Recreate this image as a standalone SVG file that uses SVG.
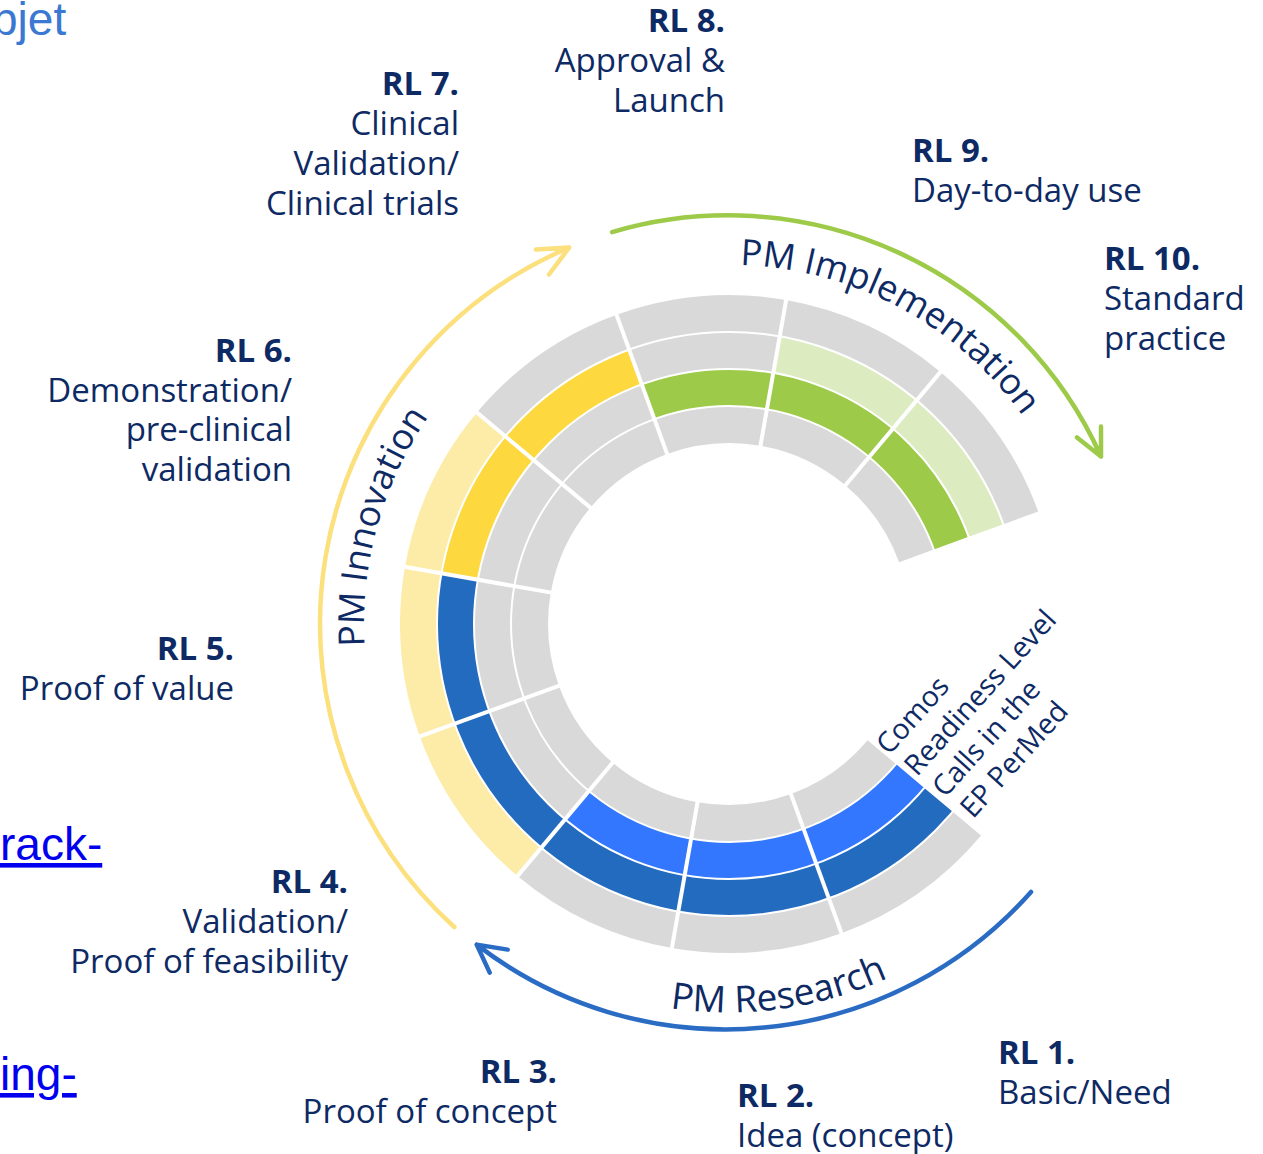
<svg xmlns="http://www.w3.org/2000/svg" width="1263" height="1154" viewBox="0 0 1263 1154">
<style>
.c{fill:none;stroke-width:37;stroke-dasharray:30 330}
.g{stroke:#D9D9D9}.ly{stroke:#FDEBA8}.y{stroke:#FDD83F}.db{stroke:#236BBE}.bb{stroke:#3377FF}.gr{stroke:#9DCA48}.lg{stroke:#DDEBC1}
.sep{stroke:#fff;stroke-width:4}
.rg{fill:none;stroke:#fff;stroke-width:2}
.lbl{font-family:"Open Sans","DejaVu Sans",sans-serif;font-size:33px;fill:#0E2A64}
.b{font-weight:700}
.ph{font-family:"Open Sans","DejaVu Sans",sans-serif;font-size:36px;fill:#0E2A64}
.arc{fill:none;stroke-width:4.5;stroke-linecap:round;stroke-linejoin:round}
.web{font-family:"Liberation Sans",Arial,sans-serif;font-size:46px}
</style>
<defs>
<path id="pInn" d="M 364.7 646.3 A 365 365 0 0 1 546.5 307.9"/>
<path id="pImp" d="M 740 265 A 360 360 0 0 1 1067.3 500.9"/>
<path id="pRes" d="M 670 1008 A 388 388 0 0 0 978.4 921.2"/>
</defs>
<rect width="1263" height="1154" fill="#fff"/>

<text class="web" x="-8" y="35" fill="#3A78D2">bjet</text>
<text class="web" x="0" y="860" fill="#0000EE" text-decoration="underline">rack-</text>
<text class="web" x="0" y="1090" fill="#0000EE" text-decoration="underline">ing-</text>

<g id="rl1">
<circle class="c g" cx="729" cy="624" r="199.5" pathLength="360" stroke-dashoffset="-40"/>
<circle class="c bb" cx="729" cy="624" r="236.5" pathLength="360" stroke-dashoffset="-40"/>
<circle class="c db" cx="729" cy="624" r="273.5" pathLength="360" stroke-dashoffset="-40"/>
<circle class="c g" cx="729" cy="624" r="310.5" pathLength="360" stroke-dashoffset="-40"/>
<text class="lbl" x="998" y="1064"><tspan class="b">RL 1.</tspan><tspan x="998" y="1104">Basic/Need</tspan></text>
</g>
<g id="rl2">
<circle class="c g" cx="729" cy="624" r="199.5" pathLength="360" stroke-dashoffset="-70"/>
<circle class="c bb" cx="729" cy="624" r="236.5" pathLength="360" stroke-dashoffset="-70"/>
<circle class="c db" cx="729" cy="624" r="273.5" pathLength="360" stroke-dashoffset="-70"/>
<circle class="c g" cx="729" cy="624" r="310.5" pathLength="360" stroke-dashoffset="-70"/>
<text class="lbl" x="737" y="1107"><tspan class="b">RL 2.</tspan><tspan x="737" y="1147">Idea (concept)</tspan></text>
</g>
<g id="rl3">
<circle class="c g" cx="729" cy="624" r="199.5" pathLength="360" stroke-dashoffset="-100"/>
<circle class="c bb" cx="729" cy="624" r="236.5" pathLength="360" stroke-dashoffset="-100"/>
<circle class="c db" cx="729" cy="624" r="273.5" pathLength="360" stroke-dashoffset="-100"/>
<circle class="c g" cx="729" cy="624" r="310.5" pathLength="360" stroke-dashoffset="-100"/>
<text class="lbl" text-anchor="end" x="557" y="1083"><tspan class="b">RL 3.</tspan><tspan x="557" y="1123">Proof of concept</tspan></text>
</g>
<g id="rl4">
<circle class="c g" cx="729" cy="624" r="199.5" pathLength="360" stroke-dashoffset="-130"/>
<circle class="c g" cx="729" cy="624" r="236.5" pathLength="360" stroke-dashoffset="-130"/>
<circle class="c db" cx="729" cy="624" r="273.5" pathLength="360" stroke-dashoffset="-130"/>
<circle class="c ly" cx="729" cy="624" r="310.5" pathLength="360" stroke-dashoffset="-130"/>
<text class="lbl" text-anchor="end" x="348" y="893"><tspan class="b">RL 4.</tspan><tspan x="348" y="933">Validation/</tspan><tspan x="348" y="973">Proof of feasibility</tspan></text>
</g>
<g id="rl5">
<circle class="c g" cx="729" cy="624" r="199.5" pathLength="360" stroke-dashoffset="-160"/>
<circle class="c g" cx="729" cy="624" r="236.5" pathLength="360" stroke-dashoffset="-160"/>
<circle class="c db" cx="729" cy="624" r="273.5" pathLength="360" stroke-dashoffset="-160"/>
<circle class="c ly" cx="729" cy="624" r="310.5" pathLength="360" stroke-dashoffset="-160"/>
<text class="lbl" text-anchor="end" x="234" y="660"><tspan class="b">RL 5.</tspan><tspan x="234" y="700">Proof of value</tspan></text>
</g>
<g id="rl6">
<circle class="c g" cx="729" cy="624" r="199.5" pathLength="360" stroke-dashoffset="-190"/>
<circle class="c g" cx="729" cy="624" r="236.5" pathLength="360" stroke-dashoffset="-190"/>
<circle class="c y" cx="729" cy="624" r="273.5" pathLength="360" stroke-dashoffset="-190"/>
<circle class="c ly" cx="729" cy="624" r="310.5" pathLength="360" stroke-dashoffset="-190"/>
<text class="lbl" text-anchor="end" x="292" y="362"><tspan class="b">RL 6.</tspan><tspan x="292" y="402">Demonstration/</tspan><tspan x="292" y="441">pre-clinical</tspan><tspan x="292" y="481">validation</tspan></text>
</g>
<g id="rl7">
<circle class="c g" cx="729" cy="624" r="199.5" pathLength="360" stroke-dashoffset="-220"/>
<circle class="c g" cx="729" cy="624" r="236.5" pathLength="360" stroke-dashoffset="-220"/>
<circle class="c y" cx="729" cy="624" r="273.5" pathLength="360" stroke-dashoffset="-220"/>
<circle class="c g" cx="729" cy="624" r="310.5" pathLength="360" stroke-dashoffset="-220"/>
<text class="lbl" text-anchor="end" x="459" y="95"><tspan class="b">RL 7.</tspan><tspan x="459" y="135">Clinical</tspan><tspan x="459" y="175">Validation/</tspan><tspan x="459" y="215">Clinical trials</tspan></text>
</g>
<g id="rl8">
<circle class="c g" cx="729" cy="624" r="199.5" pathLength="360" stroke-dashoffset="-250"/>
<circle class="c gr" cx="729" cy="624" r="236.5" pathLength="360" stroke-dashoffset="-250"/>
<circle class="c g" cx="729" cy="624" r="273.5" pathLength="360" stroke-dashoffset="-250"/>
<circle class="c g" cx="729" cy="624" r="310.5" pathLength="360" stroke-dashoffset="-250"/>
<text class="lbl" text-anchor="end" x="725" y="32"><tspan class="b">RL 8.</tspan><tspan x="725" y="72">Approval &amp;</tspan><tspan x="725" y="112">Launch</tspan></text>
</g>
<g id="rl9">
<circle class="c g" cx="729" cy="624" r="199.5" pathLength="360" stroke-dashoffset="-280"/>
<circle class="c gr" cx="729" cy="624" r="236.5" pathLength="360" stroke-dashoffset="-280"/>
<circle class="c lg" cx="729" cy="624" r="273.5" pathLength="360" stroke-dashoffset="-280"/>
<circle class="c g" cx="729" cy="624" r="310.5" pathLength="360" stroke-dashoffset="-280"/>
<text class="lbl" x="912" y="162"><tspan class="b">RL 9.</tspan><tspan x="912" y="202">Day-to-day use</tspan></text>
</g>
<g id="rl10">
<circle class="c g" cx="729" cy="624" r="199.5" pathLength="360" stroke-dashoffset="-310"/>
<circle class="c gr" cx="729" cy="624" r="236.5" pathLength="360" stroke-dashoffset="-310"/>
<circle class="c lg" cx="729" cy="624" r="273.5" pathLength="360" stroke-dashoffset="-310"/>
<circle class="c g" cx="729" cy="624" r="310.5" pathLength="360" stroke-dashoffset="-310"/>
<text class="lbl" x="1104" y="270"><tspan class="b">RL 10.</tspan><tspan x="1104" y="310">Standard</tspan><tspan x="1104" y="350">practice</tspan></text>
</g>

<g id="gaps">
<circle class="rg" cx="729" cy="624" r="218"/>
<circle class="rg" cx="729" cy="624" r="255"/>
<circle class="rg" cx="729" cy="624" r="292"/>
<line class="sep" x1="789.2" y1="789.4" x2="843.2" y2="937.9"/>
<line class="sep" x1="698.4" y1="797.3" x2="671.0" y2="952.9"/>
<line class="sep" x1="615.9" y1="758.8" x2="514.3" y2="879.9"/>
<line class="sep" x1="563.6" y1="684.2" x2="415.1" y2="738.2"/>
<line class="sep" x1="555.7" y1="593.4" x2="400.1" y2="566.0"/>
<line class="sep" x1="594.2" y1="510.9" x2="473.1" y2="409.3"/>
<line class="sep" x1="668.8" y1="458.6" x2="614.8" y2="310.1"/>
<line class="sep" x1="759.6" y1="450.7" x2="787.0" y2="295.1"/>
<line class="sep" x1="842.1" y1="489.2" x2="943.7" y2="368.1"/>
</g>

<g id="title">
<text class="lbl" transform="translate(889,756) rotate(-48)" style="font-size:28.5px"><tspan x="0" y="0">Comos</tspan><tspan x="3" y="35">Readiness Level</tspan><tspan x="6" y="70">Calls in the</tspan><tspan x="9" y="105">EP PerMed</tspan></text>
</g>

<g id="connectors">
<path class="arc" stroke="#FCE07D" d="M 454.3 927 A 409 409 0 0 1 569.2 247.5 M 536 249.5 L 569.2 247.5 L 549 274.5"/>
<path class="arc" stroke="#9DCA48" d="M 612.1 232.1 A 409 409 0 0 1 1101 456.5 M 1077 437.4 L 1101 456.5 L 1101 426.4"/>
<path class="arc" stroke="#2A6CC3" d="M 1031 892 A 408 408 0 0 1 476.7 944.6 M 507.7 949.6 L 476.7 944.6 L 489.7 972.6"/>
<text class="ph"><textPath href="#pInn">PM Innovation</textPath></text>
<text class="ph"><textPath href="#pImp">PM Implementation</textPath></text>
<text class="ph" style="font-size:37px"><textPath href="#pRes">PM Research</textPath></text>
</g>
</svg>
